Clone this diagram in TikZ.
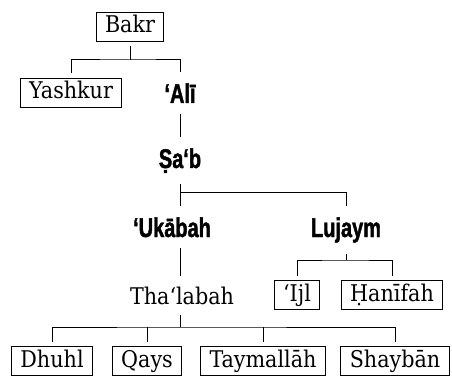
\documentclass[tikz,border=0pt]{standalone}
\usepackage{fontspec}
\setmainfont{DejaVu Serif Condensed}
\newfontfamily\chieffont[FakeStretch=0.74,FakeBold=1.5]{Liberation Sans}
\usepackage{tikz}

\begin{document}
\begin{tikzpicture}[x=1pt,y=-1pt,line width=1pt,
tribe/.style={draw,font=\fontsize{23}{27}\selectfont,inner xsep=9pt,inner ysep=1pt,text height=18pt,text depth=6pt,minimum height=29pt,outer sep=5pt},
chief/.style={font=\chieffont\bfseries\fontsize{27}{30}\selectfont,inner sep=1pt,outer sep=10pt,anchor=base},
plain/.style={font=\fontsize{23}{27}\selectfont,inner sep=1pt,outer sep=10pt,anchor=base}]
\useasboundingbox (0,0) rectangle (452,379);
\node[tribe] (bakr) at (130,27) {Bakr};
\node[tribe] (yashkur) at (71,93) {Yashkur};
\node[chief] (ali) at (180,103) {‘Alī};
\node[chief] (sab) at (180,168) {Ṣa‘b};
\node[chief] (ukabah) at (172,237) {‘Ukābah};
\node[chief] (lujaym) at (346,237) {Lujaym};
\node[plain] (thalabah) at (182,304) {Tha‘labah};
\node[tribe] (ijl) at (297,295) {‘Ijl};
\node[tribe] (hanifah) at (392,295) {Ḥanīfah};
\node[tribe] (dhuhl) at (52,361) {Dhuhl};
\node[tribe] (qays) at (147,361) {Qays};
\node[tribe] (taym) at (263,361) {Taymallāh};
\node[tribe] (shayban) at (395,361) {Shaybān};
% junctions
\coordinate (j1) at (130,60);
\coordinate (j2) at (180,193);
\coordinate (j3) at (346,260);
\coordinate (j4) at (180,327);
\draw (bakr.south) -- (j1);
\draw (yashkur.north) |- (j1) -| (ali.north);
\draw (ali.south) -- (sab.south |- ali.south) -- (sab.north);
\draw (sab.south) -- (sab.south |- ukabah.north);
\draw (j2) -| (lujaym.north);
\draw (ukabah.south -| sab.south) -- (sab.south |- thalabah.north);
\draw (lujaym.south) -- (j3);
\draw (ijl.north) |- (j3) -| (hanifah.north);
\draw (thalabah.south -| j4) -- (j4);
\draw (dhuhl.north) |- (j4) -| (shayban.north);
\draw (qays.north) -- (qays.north |- j4);
\draw (taym.north) -- (taym.north |- j4);
\end{tikzpicture}
\end{document}
